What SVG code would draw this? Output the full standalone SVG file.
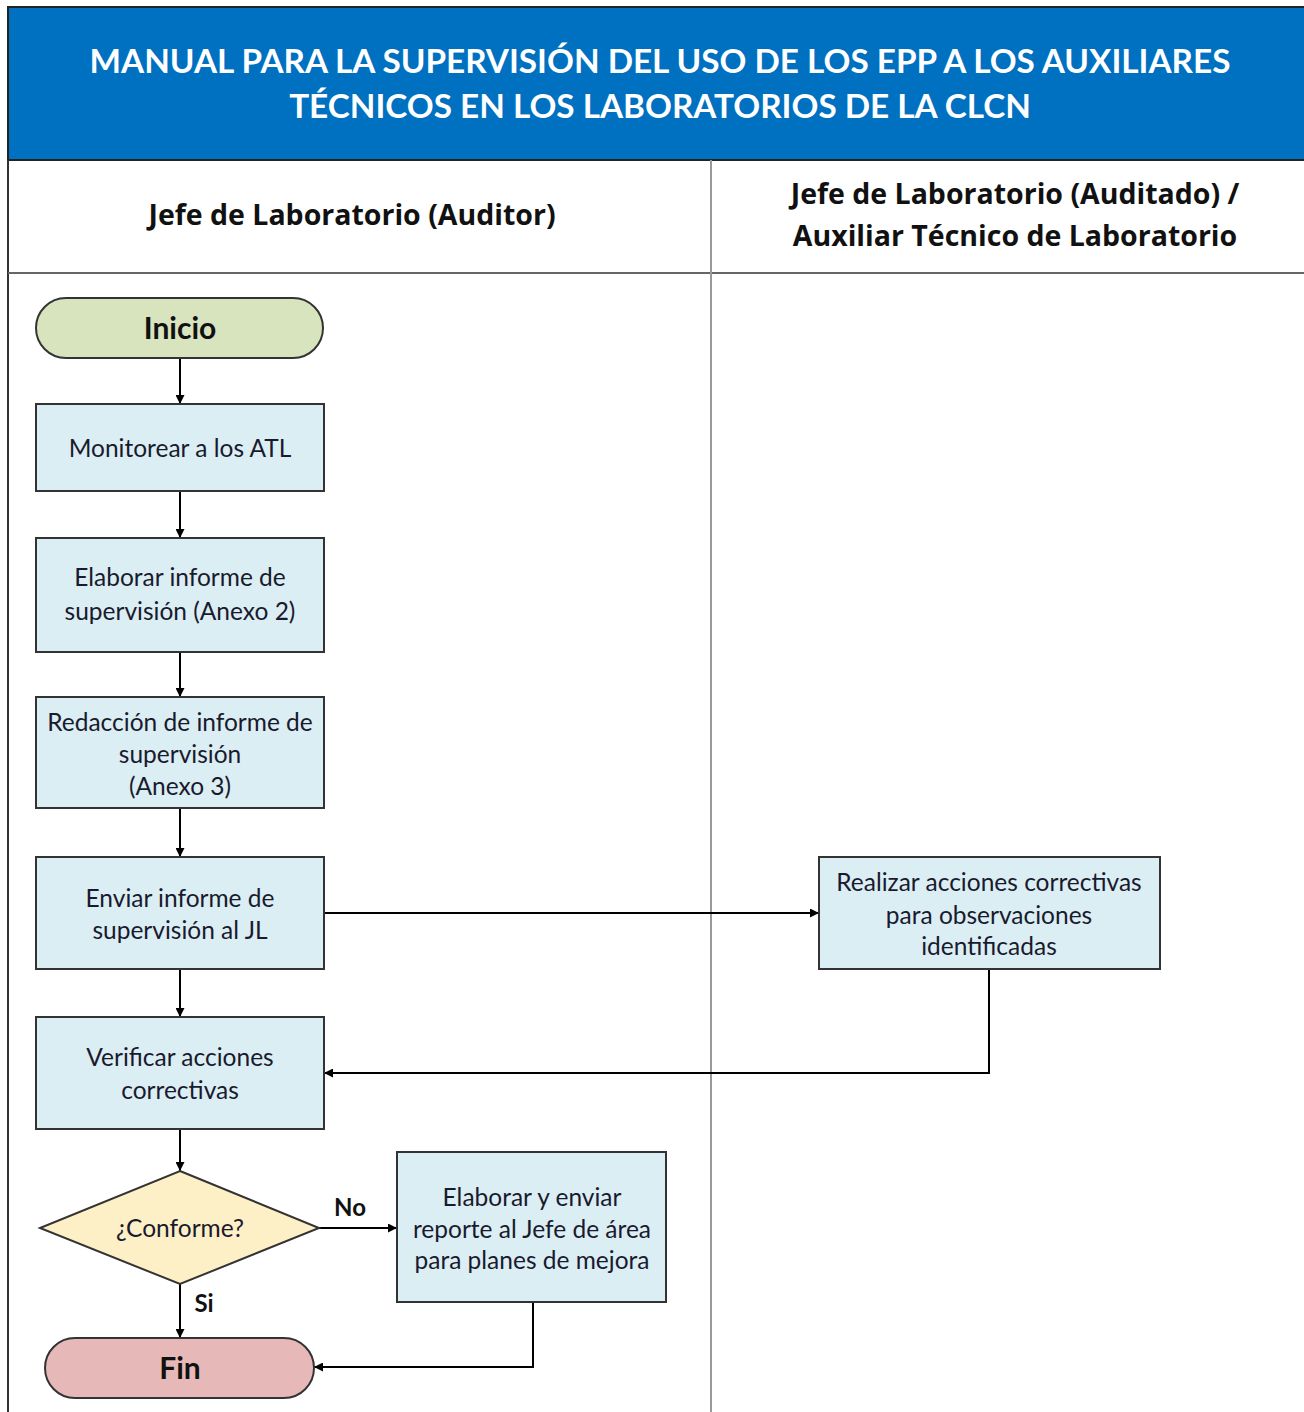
<svg xmlns="http://www.w3.org/2000/svg" width="1304" height="1412" viewBox="0 0 1304 1412">
<defs>
<marker id="arr" viewBox="0 0 10 10" refX="10" refY="5" markerWidth="9" markerHeight="9" markerUnits="userSpaceOnUse" orient="auto">
<path d="M0,0 L10,5 L0,10 z" fill="#000"/>
</marker>
<style>
.box{fill:#DBEEF4;stroke:#333;stroke-width:2}
.t{font-family:Lato,"Liberation Sans",sans-serif;font-size:24.5px;fill:#1a1a2e;text-anchor:middle}
.b{font-family:Lato,"Liberation Sans",sans-serif;font-weight:bold;fill:#111;text-anchor:middle}
.h{font-family:"Open Sans","Liberation Sans",sans-serif;font-weight:bold;font-size:28.5px;fill:#111;text-anchor:middle}
.ln{fill:none;stroke:#000;stroke-width:2;marker-end:url(#arr)}
.lbl{font-family:Lato,"Liberation Sans",sans-serif;font-weight:bold;font-size:24px;fill:#111;text-anchor:middle}
</style>
</defs>
<rect x="0" y="0" width="1304" height="1412" fill="#fff"/>
<g id="frame">
<rect x="8" y="7" width="1300" height="153" fill="#0070C0" stroke="#222" stroke-width="2"/>
<text x="660" y="73" font-family="Lato,'Liberation Sans',sans-serif" font-weight="bold" font-size="33.3" fill="#fff" text-anchor="middle">MANUAL PARA LA SUPERVISIÓN DEL USO DE LOS EPP A LOS AUXILIARES</text>
<text x="660" y="118" font-family="Lato,'Liberation Sans',sans-serif" font-weight="bold" font-size="33.3" fill="#fff" text-anchor="middle">TÉCNICOS EN LOS LABORATORIOS DE LA CLCN</text>
<line x1="8" y1="160" x2="8" y2="1412" stroke="#333" stroke-width="2"/>
<line x1="8" y1="273" x2="1304" y2="273" stroke="#666" stroke-width="2"/>
<line x1="711" y1="160" x2="711" y2="1412" stroke="#999" stroke-width="2"/>
<text class="h" x="352" y="225">Jefe de Laboratorio (Auditor)</text>
<text class="h" x="1015" y="204">Jefe de Laboratorio (Auditado) /</text>
<text class="h" x="1015" y="246">Auxiliar Técnico de Laboratorio</text>
</g>
<g id="connectors">
<line class="ln" x1="180" y1="358" x2="180" y2="404"/>
<line class="ln" x1="180" y1="491" x2="180" y2="538"/>
<line class="ln" x1="180" y1="652" x2="180" y2="697"/>
<line class="ln" x1="180" y1="808" x2="180" y2="857"/>
<line class="ln" x1="180" y1="969" x2="180" y2="1017"/>
<line class="ln" x1="180" y1="1129" x2="180" y2="1171"/>
<line class="ln" x1="180" y1="1284" x2="180" y2="1338"/>
<line class="ln" x1="324" y1="913" x2="819" y2="913"/>
<polyline class="ln" points="989,969 989,1073 324,1073"/>
<line class="ln" x1="319" y1="1228" x2="397" y2="1228"/>
<polyline class="ln" points="533,1302 533,1367 314,1367"/>
<text class="lbl" x="350" y="1216">No</text>
<text class="lbl" x="204" y="1312">Si</text>
</g>
<g id="inicio">
<rect x="36" y="298" width="287" height="60" rx="30" fill="#D7E4BD" stroke="#333" stroke-width="2"/>
<text class="b" x="180" y="339" font-size="30">Inicio</text>
</g>
<g id="monitorear">
<rect class="box" x="36" y="404" width="288" height="87"/>
<text class="t" x="180" y="457">Monitorear a los ATL</text>
</g>
<g id="elaborar">
<rect class="box" x="36" y="538" width="288" height="114"/>
<text class="t" x="180" y="586">Elaborar informe de</text>
<text class="t" x="180" y="620">supervisión (Anexo 2)</text>
</g>
<g id="redaccion">
<rect class="box" x="36" y="697" width="288" height="111"/>
<text class="t" x="180" y="731">Redacción de informe de</text>
<text class="t" x="180" y="763">supervisión</text>
<text class="t" x="180" y="795">(Anexo 3)</text>
</g>
<g id="enviar">
<rect class="box" x="36" y="857" width="288" height="112"/>
<text class="t" x="180" y="907">Enviar informe de</text>
<text class="t" x="180" y="939">supervisión al JL</text>
</g>
<g id="verificar">
<rect class="box" x="36" y="1017" width="288" height="112"/>
<text class="t" x="180" y="1066">Verificar acciones</text>
<text class="t" x="180" y="1099">correctivas</text>
</g>
<g id="conforme">
<polygon points="180,1171 319,1228 180,1284 40,1228" fill="#FDF0C6" stroke="#333" stroke-width="2"/>
<text class="t" x="180" y="1237">¿Conforme?</text>
</g>
<g id="reporte">
<rect class="box" x="397" y="1152" width="269" height="150"/>
<text class="t" x="532" y="1206">Elaborar y enviar</text>
<text class="t" x="532" y="1238">reporte al Jefe de área</text>
<text class="t" x="532" y="1269">para planes de mejora</text>
</g>
<g id="fin">
<rect x="45" y="1338" width="269" height="60" rx="30" fill="#E6B9B8" stroke="#333" stroke-width="2"/>
<text class="b" x="180" y="1379" font-size="30">Fin</text>
</g>
<g id="realizar">
<rect class="box" x="819" y="857" width="341" height="112"/>
<text class="t" x="989" y="891">Realizar acciones correctivas</text>
<text class="t" x="989" y="924">para observaciones</text>
<text class="t" x="989" y="955">identificadas</text>
</g>
</svg>
